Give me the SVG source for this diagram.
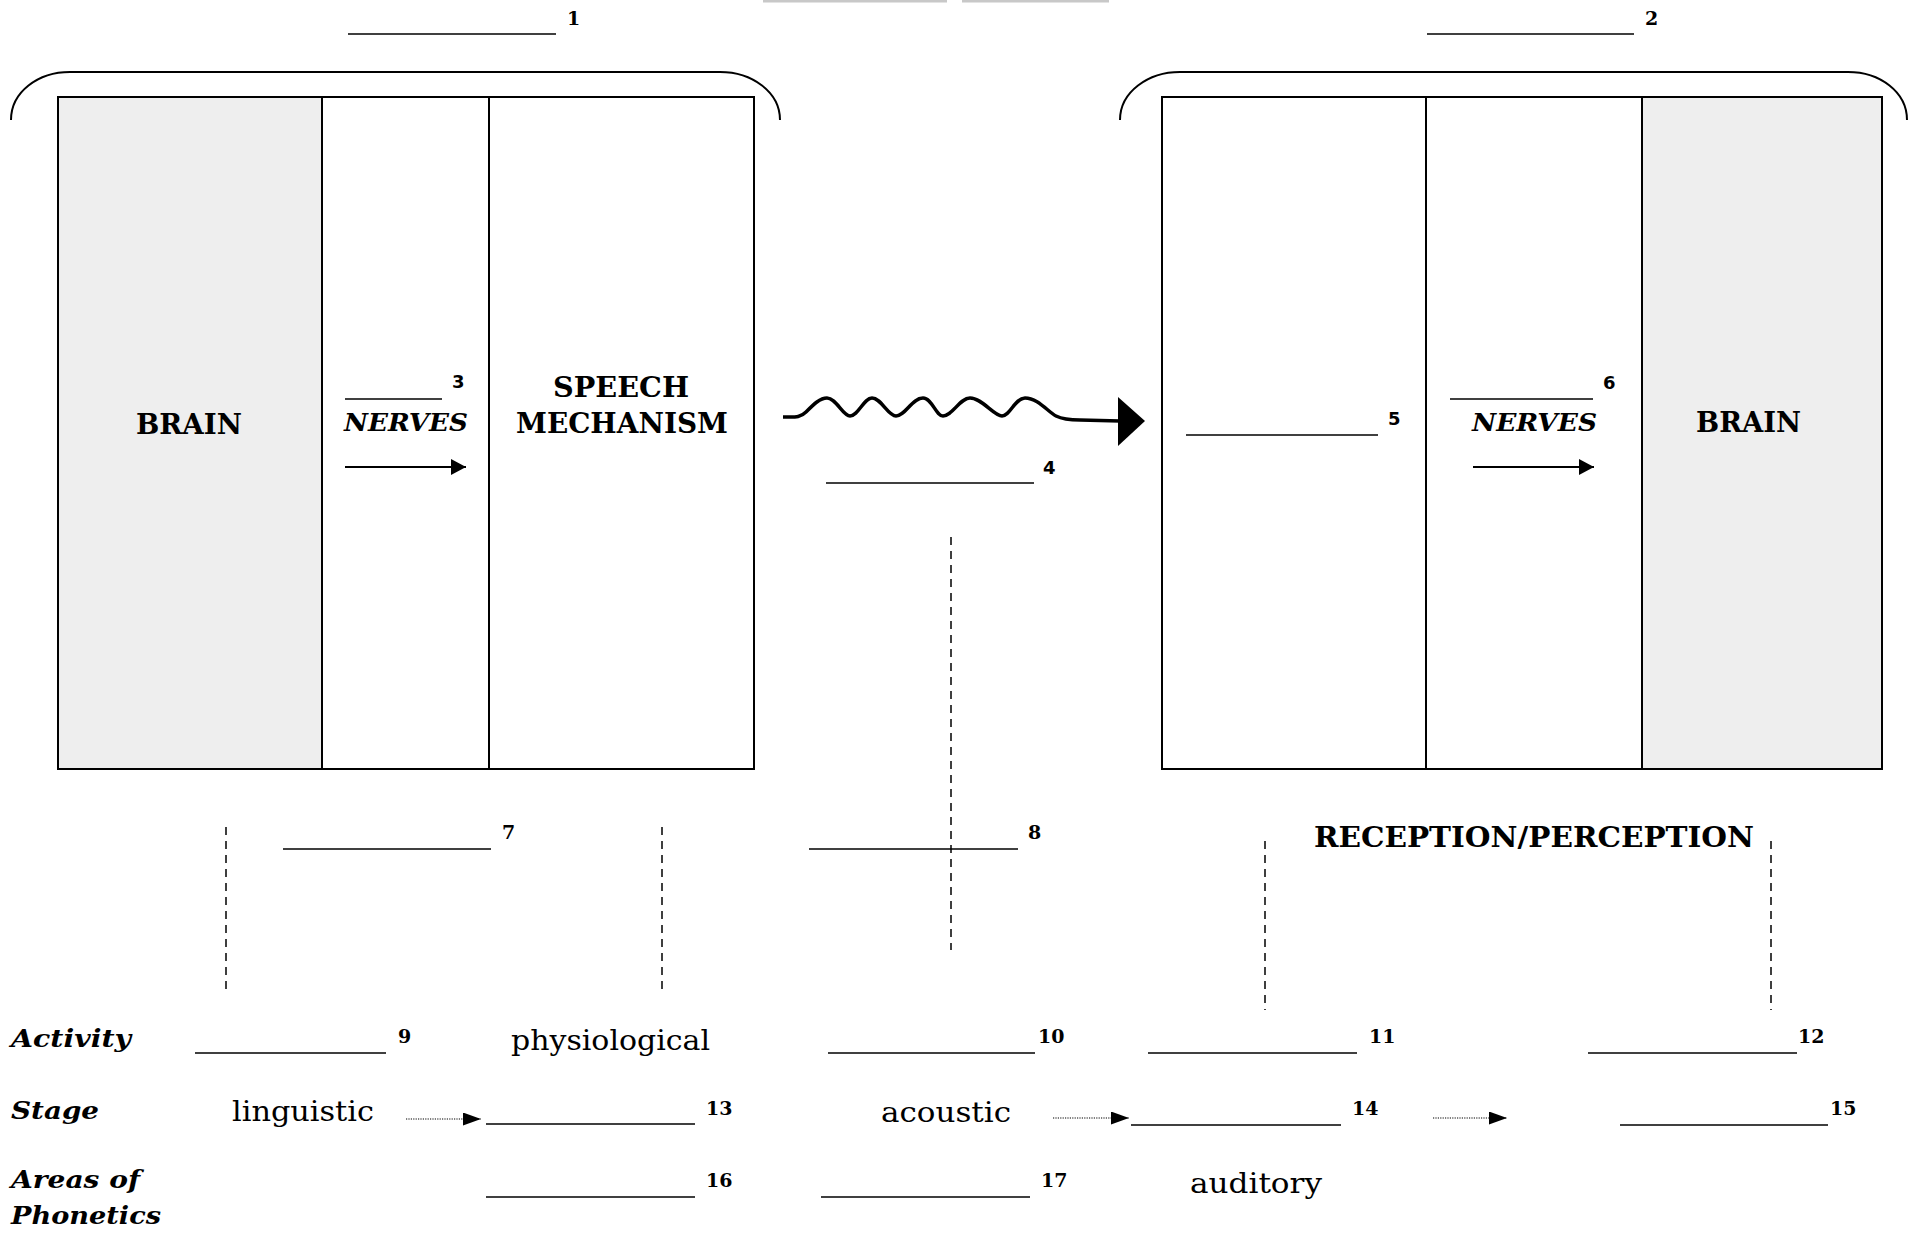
<svg xmlns="http://www.w3.org/2000/svg" width="1927" height="1236" viewBox="0 0 1927 1236">
<defs>
<style>
.bg{fill:#ffffff}
.box{fill:none;stroke:#000;stroke-width:2}
.shade{fill:#eeeeee}
.div{stroke:#000;stroke-width:2}
.brk{fill:none;stroke:#000;stroke-width:2}
.ul{stroke:#000;stroke-width:1.5}
.dash{stroke:#000;stroke-width:1.5;stroke-dasharray:8 6}
.dot{stroke:#000;stroke-width:1.2;stroke-dasharray:1.2 1.2}
.sol{stroke:#000;stroke-width:2}
.big{font-family:"DejaVu Serif","Liberation Serif",serif;font-weight:bold;font-size:27px;fill:#000}
.bi{font-family:"DejaVu Serif","Liberation Serif",serif;font-weight:bold;font-style:italic;font-size:25px;fill:#000}
.reg{font-family:"DejaVu Serif","Liberation Serif",serif;font-size:28px;fill:#000}
.ns{font-family:"DejaVu Sans","Liberation Sans",sans-serif;font-weight:bold;font-size:18px;fill:#000}
.nr{font-family:"DejaVu Serif","Liberation Serif",serif;font-weight:bold;font-size:19px;fill:#000}
.gray{fill:#c8c8c8}
</style>
<marker id="solidHead" markerUnits="userSpaceOnUse" markerWidth="15" markerHeight="16" refX="15" refY="8" orient="auto">
<path d="M0,0 L15,8 L0,16 z" fill="#000"/>
</marker>
<marker id="dotHead" markerUnits="userSpaceOnUse" markerWidth="18" markerHeight="13" refX="18" refY="6.5" orient="auto">
<path d="M0,0 L18,6.5 L0,13 z" fill="#000"/>
</marker>
</defs>
<rect class="bg" x="0" y="0" width="1927" height="1236"/>
<rect class="gray" x="763" y="0" width="184" height="2.5"/>
<rect class="gray" x="962" y="0" width="147" height="2.5"/>

<g id="speaker">
<path class="brk" d="M11,120 C11,92 38,72 70,72 L720,72 C752,72 780,92 780,120"/>
<line class="ul" x1="348" y1="34" x2="556" y2="34"/>
<text class="nr" x="567" y="25">1</text>
<rect class="shade" x="58" y="97" width="264" height="672"/>
<rect class="box" x="58" y="97" width="696" height="672"/>
<line class="div" x1="322" y1="97" x2="322" y2="769"/>
<line class="div" x1="489" y1="97" x2="489" y2="769"/>
</g>

<g id="brain-left">
<text class="big" x="136" y="434" textLength="106" lengthAdjust="spacingAndGlyphs">BRAIN</text>
</g>

<g id="nerves-left">
<line class="ul" x1="345" y1="399" x2="442" y2="399"/>
<text class="ns" x="452" y="388">3</text>
<text class="bi" x="344" y="431" textLength="124" lengthAdjust="spacingAndGlyphs">NERVES</text>
</g>

<g id="speech-mechanism">
<text class="big" x="553" y="397" textLength="136" lengthAdjust="spacingAndGlyphs">SPEECH</text>
<text class="big" x="516" y="433" textLength="212" lengthAdjust="spacingAndGlyphs">MECHANISM</text>
</g>

<g id="listener">
<path class="brk" d="M1120,120 C1120,92 1148,72 1180,72 L1848,72 C1880,72 1907,92 1907,120"/>
<line class="ul" x1="1427" y1="34" x2="1634" y2="34"/>
<text class="nr" x="1645" y="25">2</text>
<rect class="shade" x="1642" y="97" width="240" height="672"/>
<rect class="box" x="1162" y="97" width="720" height="672"/>
<line class="div" x1="1426" y1="97" x2="1426" y2="769"/>
<line class="div" x1="1642" y1="97" x2="1642" y2="769"/>
</g>

<g id="ear">
<line class="ul" x1="1186" y1="435" x2="1378" y2="435"/>
<text class="ns" x="1388" y="425">5</text>
</g>

<g id="nerves-right">
<line class="ul" x1="1450" y1="399" x2="1593" y2="399"/>
<text class="ns" x="1603" y="389">6</text>
<text class="bi" x="1472" y="431" textLength="125" lengthAdjust="spacingAndGlyphs">NERVES</text>
</g>

<g id="brain-right">
<text class="big" x="1696" y="432" textLength="105" lengthAdjust="spacingAndGlyphs">BRAIN</text>
</g>

<g id="sound-wave">
<line class="ul" x1="826" y1="483" x2="1034" y2="483"/>
<text class="ns" x="1043" y="474">4</text>
</g>

<g id="connectors">
<line class="sol" x1="345" y1="467" x2="466" y2="467" marker-end="url(#solidHead)"/>
<line class="sol" x1="1473" y1="467" x2="1594" y2="467" marker-end="url(#solidHead)"/>
<path d="M783,417 C795,417 800,418 806,412 C814,404 820,398 827,398 C836,398 843,416 850,416 C858,416 864,398 872,398 C881,398 888,416 896,416 C905,416 912,398 923,398 C932,398 936,416 943,416 C952,416 960,398 970,398 C982,398 994,416 1002,416 C1010,416 1015,398 1025,398 C1038,398 1048,412 1056,416 C1062,419 1068,420 1080,420 L1120,421" fill="none" stroke="#000" stroke-width="3.5"/>
<polygon points="1118,397 1145,421 1118,446" fill="#000"/>
<line class="dash" x1="951" y1="537" x2="951" y2="950"/>
<line class="dash" x1="226" y1="827" x2="226" y2="995"/>
<line class="dash" x1="662" y1="827" x2="662" y2="995"/>
<line class="dash" x1="1265" y1="841" x2="1265" y2="1010"/>
<line class="dash" x1="1771" y1="841" x2="1771" y2="1010"/>
<line class="dot" x1="406" y1="1119" x2="481" y2="1119" marker-end="url(#dotHead)"/>
<line class="dot" x1="1053" y1="1118" x2="1129" y2="1118" marker-end="url(#dotHead)"/>
<line class="dot" x1="1433" y1="1118" x2="1507" y2="1118" marker-end="url(#dotHead)"/>
</g>

<g id="mid-labels">
<line class="ul" x1="283" y1="849" x2="491" y2="849"/>
<text class="nr" x="502" y="839">7</text>
<line class="ul" x1="809" y1="849" x2="1018" y2="849"/>
<text class="nr" x="1028" y="839">8</text>
<text class="big" x="1314" y="847" textLength="440" lengthAdjust="spacingAndGlyphs">RECEPTION/PERCEPTION</text>
</g>

<g id="table">
<text class="bi" x="11" y="1047" textLength="120" lengthAdjust="spacingAndGlyphs">Activity</text>
<text class="bi" x="11" y="1119" textLength="88" lengthAdjust="spacingAndGlyphs">Stage</text>
<text class="bi" x="11" y="1188" textLength="129" lengthAdjust="spacingAndGlyphs">Areas of</text>
<text class="bi" x="11" y="1224" textLength="150" lengthAdjust="spacingAndGlyphs">Phonetics</text>

<line class="ul" x1="195" y1="1053" x2="386" y2="1053"/>
<text class="nr" x="398" y="1043">9</text>
<text class="reg" x="511" y="1050" textLength="199" lengthAdjust="spacingAndGlyphs">physiological</text>
<line class="ul" x1="828" y1="1053" x2="1035" y2="1053"/>
<text class="nr" x="1038" y="1043">10</text>
<line class="ul" x1="1148" y1="1053" x2="1357" y2="1053"/>
<text class="nr" x="1369" y="1043">11</text>
<line class="ul" x1="1588" y1="1053" x2="1797" y2="1053"/>
<text class="nr" x="1798" y="1043">12</text>

<text class="reg" x="232" y="1121" textLength="142" lengthAdjust="spacingAndGlyphs">linguistic</text>
<line class="ul" x1="486" y1="1124" x2="695" y2="1124"/>
<text class="nr" x="706" y="1115">13</text>
<text class="reg" x="881" y="1122" textLength="130" lengthAdjust="spacingAndGlyphs">acoustic</text>
<line class="ul" x1="1131" y1="1125" x2="1341" y2="1125"/>
<text class="nr" x="1352" y="1115">14</text>
<line class="ul" x1="1620" y1="1125" x2="1828" y2="1125"/>
<text class="nr" x="1830" y="1115">15</text>

<line class="ul" x1="486" y1="1197" x2="695" y2="1197"/>
<text class="nr" x="706" y="1187">16</text>
<line class="ul" x1="821" y1="1197" x2="1030" y2="1197"/>
<text class="nr" x="1041" y="1187">17</text>
<text class="reg" x="1190" y="1193" textLength="132" lengthAdjust="spacingAndGlyphs">auditory</text>
</g>
</svg>
